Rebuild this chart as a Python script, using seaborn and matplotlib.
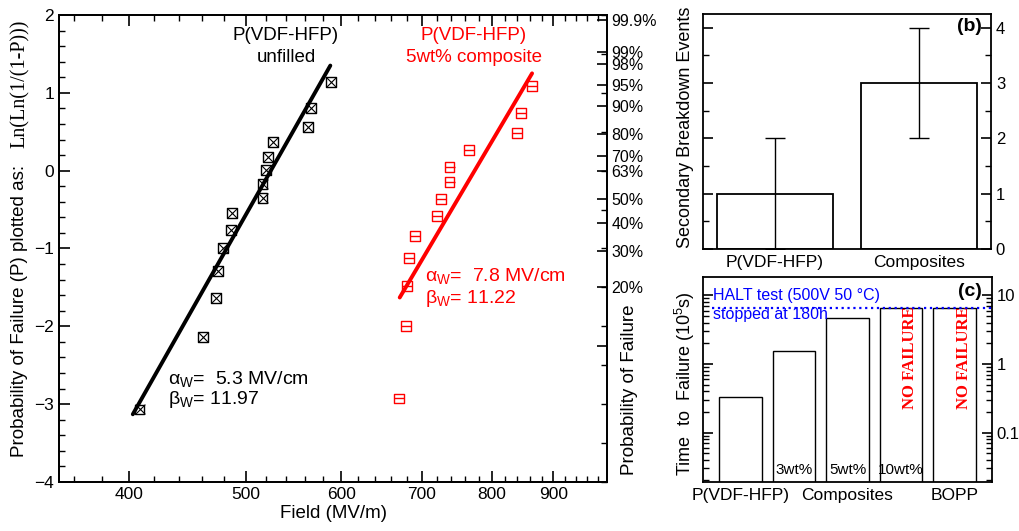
import numpy as np
import pandas as pd
import matplotlib
matplotlib.use('Agg')
import matplotlib.pyplot as plt
import matplotlib.transforms as mtransforms
from matplotlib.ticker import (FixedLocator, FixedFormatter, MultipleLocator,
                               LogLocator, FuncFormatter, NullFormatter)
import seaborn as sns

# ---------------- data ----------------
unfilled_field = [588.5, 566.0, 563.6, 526.5, 521.6, 520.0, 516.3, 516.3,
                  487.4, 486.0, 479.1, 473.9, 472.4, 460.6, 408.2]
unfilled_lnln = [1.143, 0.80, 0.564, 0.371, 0.179, 0.008, -0.176, -0.356,
                 -0.549, -0.763, -0.999, -1.287, -1.638, -2.139, -3.068]
comp_field = [863.5, 846.0, 839.7, 765.4, 738.0, 738.0, 726.0, 720.0,
              690.6, 682.5, 680.2, 679.5, 669.7]
comp_lnln = [1.091, 0.736, 0.479, 0.265, 0.050, -0.150, -0.362, -0.584,
             -0.837, -1.126, -1.483, -1.997, -2.927]
unfilled_fit_field = [403.0, 587.7]
unfilled_fit_lnln = [-3.13, 1.35]
comp_fit_field = [671.0, 864.0]
comp_fit_lnln = [-1.63, 1.25]

field_ticks = [400, 500, 600, 700, 800, 900]
field_tick_labels = ['400', '500', '600', '700', '800', '900']
prob_levels = [99.9, 99, 98, 95, 90, 80, 70, 63, 50, 40, 30, 20, 10]
prob_labels = ['99.9%', '99%', '98%', '95%', '90%', '80%', '70%', '63%',
               '50%', '40%', '30%', '20%', '']

sb_categories = ['P(VDF-HFP)', 'Composites']
sb_events = [1, 3]
sb_err = [1, 1]

ttf_categories = ['P(VDF-HFP)', '3wt%', '5wt%', '10wt%', 'BOPP']
ttf_values = [0.327, 1.545, 4.64, 6.48, 6.48]
ttf_inner_labels = ['', '3wt%', '5wt%', '10wt%', '']
ttf_no_failure = [False, False, False, True, True]
halt_limit = 6.48
ttf_group_pos = [0, 2, 4]
ttf_group_labels = ['P(VDF-HFP)', 'Composites', 'BOPP']

# ---------------- style ----------------
sns.set_theme(style='ticks')
plt.rcParams['font.family'] = ['Liberation Sans', 'DejaVu Sans']
plt.rcParams.update({
    'mathtext.fontset': 'custom',
    'mathtext.rm': 'Liberation Sans',
    'mathtext.it': 'Liberation Sans:italic',
    'mathtext.bf': 'Liberation Sans:bold',
    'axes.linewidth': 1.3,
    'axes.edgecolor': 'black',
    'xtick.direction': 'in',
    'ytick.direction': 'in',
    'xtick.color': 'black',
    'ytick.color': 'black',
    'text.color': 'black',
    'axes.labelcolor': 'black',
})

fig = plt.figure(figsize=(10.19, 5.31), dpi=100)
fig.patch.set_facecolor('white')

# ---------------- panel (a) ----------------
ax = fig.add_axes([0.0579, 0.0923, 0.5378, 0.8795])
df_u = pd.DataFrame({'field': unfilled_field, 'lnln': unfilled_lnln})
df_c = pd.DataFrame({'field': comp_field, 'lnln': comp_lnln})

sns.lineplot(x=unfilled_fit_field, y=unfilled_fit_lnln, color='black', lw=2.8, ax=ax, zorder=2)
sns.lineplot(x=comp_fit_field, y=comp_fit_lnln, color='red', lw=2.8, ax=ax, zorder=2)

sns.scatterplot(data=df_u, x='field', y='lnln', marker='s', s=50, facecolor='none',
                edgecolor='black', linewidth=1.0, ax=ax, zorder=3)
sns.scatterplot(data=df_u, x='field', y='lnln', marker='x', s=50, color='black',
                linewidth=0.8, ax=ax, zorder=3)
sns.scatterplot(data=df_c, x='field', y='lnln', marker='s', s=50, facecolor='none',
                edgecolor='red', linewidth=1.0, ax=ax, zorder=3)
sns.scatterplot(data=df_c, x='field', y='lnln', marker='_', s=50, color='red',
                linewidth=1.0, ax=ax, zorder=3)

ax.set_xscale('log')
ax.set_xlim(350, 997)
ax.set_ylim(-4, 2)
ax.xaxis.set_major_locator(FixedLocator(field_ticks))
ax.xaxis.set_major_formatter(FixedFormatter(field_tick_labels))
ax.xaxis.set_minor_locator(FixedLocator([v for v in range(360, 1000, 20) if v % 100 != 0]))
ax.xaxis.set_minor_formatter(NullFormatter())
ax.yaxis.set_major_locator(MultipleLocator(1))
ax.yaxis.set_minor_locator(MultipleLocator(0.2))
ax.tick_params(which='both', top=True, bottom=True, left=True, right=False, direction='in')
ax.tick_params(which='major', length=8, width=1.2, labelsize=12.5)
ax.tick_params(which='minor', length=4.5, width=1.0)
ax.set_xlabel('Field (MV/m)', fontsize=13.5, labelpad=2)
ax.set_ylabel('')

ax2 = ax.twinx()
ax2.set_ylim(-4, 2)
prob_pos = [np.log(-np.log(1 - p / 100.0)) for p in prob_levels]
ax2.yaxis.set_major_locator(FixedLocator(prob_pos))
ax2.yaxis.set_major_formatter(FixedFormatter(prob_labels))
ax2.yaxis.set_minor_locator(MultipleLocator(0.5))
ax2.tick_params(which='both', direction='in', right=True)
ax2.tick_params(which='major', length=7, width=1.2, labelsize=11.5, pad=3)
ax2.tick_params(which='minor', length=4.5, width=1.0)

fig.text(20 / 1019, (531 - 457) / 531, 'Probability of Failure (P) plotted as:',
         rotation=90, ha='center', va='bottom', fontsize=13.5)
fig.text(20 / 1019, (531 - 20) / 531, 'Ln(Ln(1/(1-P)))', rotation=90, ha='center',
         va='top', fontsize=14.5, family=['Liberation Serif', 'DejaVu Serif'])
fig.text(629 / 1019, (531 - 390) / 531, 'Probability of Failure', rotation=90,
         ha='center', va='center', fontsize=13.5)

ax.text(0.414, 0.955, 'P(VDF-HFP)', transform=ax.transAxes, ha='center', va='center', fontsize=13.5)
ax.text(0.414, 0.908, 'unfilled', transform=ax.transAxes, ha='center', va='center', fontsize=13.5)
ax.text(0.757, 0.955, 'P(VDF-HFP)', transform=ax.transAxes, ha='center', va='center', fontsize=13.5, color='red')
ax.text(0.757, 0.908, '5wt% composite', transform=ax.transAxes, ha='center', va='center', fontsize=13.5, color='red')
ax.text(0.199, 0.221, '\u03b1$_{\\mathrm{W}}$=  5.3 MV/cm', transform=ax.transAxes, ha='left', va='center', fontsize=14)
ax.text(0.199, 0.176, '\u03b2$_{\\mathrm{W}}$= 11.97', transform=ax.transAxes, ha='left', va='center', fontsize=14)
ax.text(0.668, 0.441, '\u03b1$_{\\mathrm{W}}$=  7.8 MV/cm', transform=ax.transAxes, ha='left', va='center', fontsize=14, color='red')
ax.text(0.668, 0.392, '\u03b2$_{\\mathrm{W}}$= 11.22', transform=ax.transAxes, ha='left', va='center', fontsize=14, color='red')

# ---------------- panel (b) ----------------
axb = fig.add_axes([0.6899, 0.5311, 0.2826, 0.4426])
sns.barplot(x=sb_categories, y=sb_events, color='white', edgecolor='black', linewidth=1.3,
            width=0.8, errorbar=None, saturation=1, ax=axb)
axb.errorbar(range(len(sb_events)), sb_events, yerr=sb_err, fmt='none', ecolor='black',
             elinewidth=1.0, capsize=7, capthick=1.0, zorder=3)
axb.set_xlim(-0.5, 1.5)
axb.set_ylim(0, 4.25)
axb.yaxis.set_major_locator(MultipleLocator(1))
axb.yaxis.set_minor_locator(MultipleLocator(0.5))
axb.tick_params(axis='y', which='both', left=True, right=True, labelleft=False,
                labelright=True, direction='in')
axb.tick_params(axis='y', which='major', length=7, width=1.2, labelsize=12)
axb.tick_params(axis='y', which='minor', length=4, width=1.0)
axb.tick_params(axis='x', length=0, labelsize=12.5, pad=4)
axb.set_xlabel('')
axb.set_ylabel('')
fig.text(685 / 1019, (531 - 127) / 531, 'Secondary Breakdown Events', rotation=90,
         ha='center', va='center', fontsize=13)
axb.text(0.925, 0.945, '(b)', transform=axb.transAxes, ha='center', va='center',
         fontsize=14, fontweight='bold')

# ---------------- panel (c) ----------------
axc = fig.add_axes([0.6899, 0.0923, 0.2836, 0.3861])
sns.barplot(x=ttf_categories, y=ttf_values, color='white', edgecolor='black', linewidth=1.0,
            width=0.8, errorbar=None, saturation=1, ax=axc)
axc.set_yscale('log')
axc.set_ylim(0.019, 18.5)
axc.set_xlim(-0.7, 4.7)
axc.yaxis.set_major_locator(LogLocator(base=10))
axc.yaxis.set_major_formatter(FuncFormatter(lambda v, _: f'{v:g}'))
axc.yaxis.set_minor_locator(LogLocator(base=10, subs=np.arange(2, 10)))
axc.yaxis.set_minor_formatter(NullFormatter())
axc.tick_params(axis='y', which='both', left=True, right=True, labelleft=False,
                labelright=True, direction='in')
axc.tick_params(axis='y', which='major', length=7, width=1.2, labelsize=12)
axc.tick_params(axis='y', which='minor', length=4, width=1.0)
axc.set_xticks(ttf_group_pos)
axc.set_xticklabels(ttf_group_labels)
axc.tick_params(axis='x', length=0, labelsize=12.5, pad=4)
axc.set_xlabel('')
axc.set_ylabel('')
axc.axhline(halt_limit, xmin=0.03, xmax=1.0, color='blue', ls=':', lw=1.6, zorder=4)

bt = mtransforms.blended_transform_factory(axc.transData, axc.transAxes)
for i, lab in enumerate(ttf_inner_labels):
    if lab:
        axc.text(i, 0.06, lab, transform=bt, ha='center', va='center', fontsize=11)
    if ttf_no_failure[i]:
        axc.text(i + 0.17, 0.605, 'NO FAILURE', transform=bt, rotation=90, ha='center',
                 va='center', color='red', fontsize=12, fontweight='bold',
                 family=['Liberation Serif', 'DejaVu Serif'])
axc.text(0.034, 0.911, 'HALT test (500V 50 \u00b0C)', transform=axc.transAxes, ha='left',
         va='center', fontsize=11.5, color='blue')
axc.text(0.034, 0.818, 'stopped at 180h', transform=axc.transAxes, ha='left',
         va='center', fontsize=11.5, color='blue')
axc.text(0.925, 0.927, '(c)', transform=axc.transAxes, ha='center', va='center',
         fontsize=14, fontweight='bold')
fig.text(685 / 1019, (531 - 384) / 531, 'Time  to  Failure (10$^{5}$s)', rotation=90,
         ha='center', va='center', fontsize=13)

fig.savefig('out.png', dpi=100, facecolor='white')
